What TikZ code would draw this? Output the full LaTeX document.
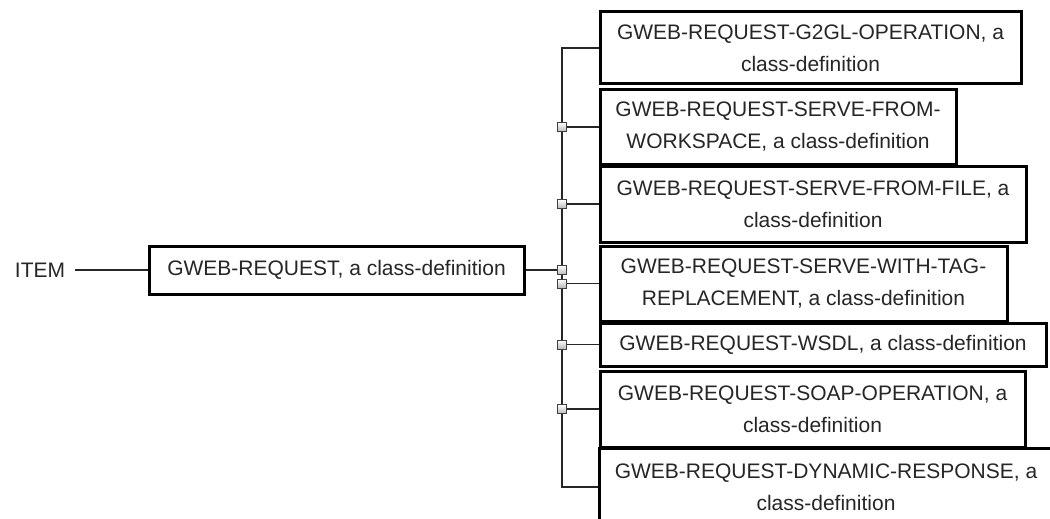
\documentclass[tikz,border=0pt]{standalone}
\usepackage{fontspec}
\setmainfont{Liberation Sans}
\begin{document}
\begin{tikzpicture}[x=1pt,y=-1pt,
  cls/.style={draw=black,line width=3pt,fill=white,inner sep=0pt,align=center,
    font=\fontsize{21}{32}\selectfont,text=black!85},
  conn/.style={draw=black!85,line width=1.3pt},
  junct/.style={draw=black!75,line width=0.9pt,top color=white,bottom color=gray!55,
    minimum size=9pt,inner sep=0pt,rectangle}]
\useasboundingbox[fill=white] (0,0) rectangle (1050,519);
\coordinate (t) at (562,0);
\node[font=\fontsize{21}{32}\selectfont,text=black!85,inner ysep=0pt,inner xsep=10pt] (item) at (40,270) {ITEM};
\node[cls,minimum width=375pt,minimum height=48pt] (main) at (336.5,270) {GWEB-REQUEST, a class-definition};
\node[cls,minimum width=421pt,minimum height=72pt] (b1) at (810.5,48) {GWEB-REQUEST-G2GL-OPERATION, a\\class-definition};
\node[cls,minimum width=356pt,minimum height=74pt] (b2) at (778,127) {GWEB-REQUEST-SERVE-FROM-\\WORKSPACE, a class-definition};
\node[cls,minimum width=426pt,minimum height=76pt] (b3) at (813,204) {GWEB-REQUEST-SERVE-FROM-FILE, a\\class-definition};
\node[cls,minimum width=407pt,minimum height=75pt] (b4) at (803.5,283.5) {GWEB-REQUEST-SERVE-WITH-TAG-\\REPLACEMENT, a class-definition};
\node[cls,minimum width=446pt,minimum height=43pt] (b5) at (823,344.5) {GWEB-REQUEST-WSDL, a class-definition};
\node[cls,minimum width=425pt,minimum height=76pt] (b6) at (812.5,409) {GWEB-REQUEST-SOAP-OPERATION, a\\class-definition};
\node[cls,minimum width=454pt,minimum height=78pt] (b7) at (826,487) {GWEB-REQUEST-DYNAMIC-RESPONSE, a\\class-definition};
\draw[conn] (item.east) -- (main.west);
\draw[conn] (b1.west) -- (b1.west -| t) -- (b7.west -| t) -- (b7.west);
\draw[conn] (main.east) -- (main.east -| t);
\foreach \b in {b2,b3,b4,b5,b6} {\draw[conn] (\b.west) -- (\b.west -| t);}
\foreach \b in {b2,b3,b4,b5,b6} {\node[junct] at (\b.west -| t) {};}
\node[junct] at (main.east -| t) {};
\end{tikzpicture}
\end{document}
